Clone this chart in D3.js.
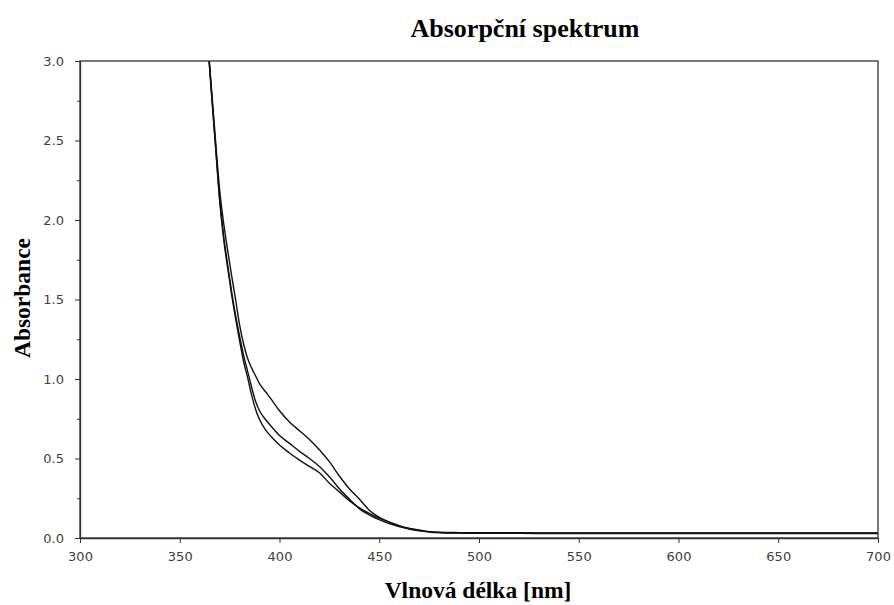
<!DOCTYPE html>
<html><head><meta charset="utf-8">
<script src="https://cdn.jsdelivr.net/npm/d3@7"></script>
<style>body{margin:0;background:#fff}</style>
</head><body>
<svg id="c" width="894" height="605"></svg>
<script>
const xTicks = [300,350,400,450,500,550,600,650,700];
const yTicks = [0.0,0.5,1.0,1.5,2.0,2.5,3.0];
const yMinor = [0.25,0.75,1.25,1.75,2.25,2.75];
const wl = [362,364,366,368,370,372,374,376,378,380,382,384,386,388,390,393,396,400,405,410,415,420,425,430,435,440,445,450,455,460,465,470,475,480,490,500,520,540,560,580,600,620,640,660,680,700];
const seriesLow = [3.45,3.12,2.78,2.45,2.12,1.88,1.70,1.53,1.38,1.24,1.11,1.01,0.90,0.81,0.745,0.68,0.635,0.585,0.535,0.49,0.45,0.41,0.345,0.29,0.235,0.19,0.155,0.125,0.10,0.077,0.06,0.048,0.04,0.035,0.031,0.029,0.029,0.028,0.028,0.028,0.028,0.028,0.028,0.028,0.028,0.028];
const seriesMid = [3.45,3.12,2.79,2.46,2.14,1.90,1.72,1.55,1.40,1.27,1.15,1.05,0.95,0.86,0.80,0.745,0.70,0.645,0.595,0.545,0.50,0.45,0.385,0.31,0.245,0.185,0.145,0.115,0.09,0.072,0.056,0.045,0.038,0.034,0.032,0.031,0.031,0.030,0.030,0.030,0.030,0.030,0.030,0.030,0.030,0.030];
const seriesHigh = [3.46,3.14,2.81,2.49,2.19,1.98,1.81,1.65,1.50,1.34,1.22,1.13,1.07,1.02,0.97,0.92,0.87,0.80,0.73,0.675,0.62,0.555,0.48,0.39,0.31,0.245,0.175,0.13,0.10,0.075,0.06,0.05,0.04,0.036,0.034,0.033,0.033,0.032,0.032,0.032,0.032,0.032,0.032,0.032,0.032,0.032];

const svg = d3.select("#c");
const L = 80, R = 878, T = 61, B = 538;
const x = d3.scaleLinear().domain([300,700]).range([L,R]);
const y = d3.scaleLinear().domain([0,3]).range([B,T]);

svg.append("defs").append("clipPath").attr("id","clip")
  .append("rect").attr("x",L).attr("y",T).attr("width",R-L).attr("height",B-T);

const line = d3.line().x((d,i)=>x(wl[i])).y(d=>y(d)).curve(d3.curveMonotoneX);
const g = svg.append("g").attr("clip-path","url(#clip)");
[seriesLow, seriesMid, seriesHigh].forEach(s=>{
  g.append("path").attr("d", line(s)).attr("fill","none").attr("stroke","#111").attr("stroke-width",1.4);
});

// frame
svg.append("rect").attr("x",L).attr("y",T).attr("width",R-L).attr("height",B-T)
  .attr("fill","none").attr("stroke","#333").attr("stroke-width",1.3);

svg.append("g").attr("transform",`translate(0,${B})`)
  .call(d3.axisBottom(x).tickValues(xTicks).tickSize(5).tickSizeOuter(0).tickPadding(9).tickFormat(d3.format("d")));
svg.append("g").attr("transform",`translate(${L},0)`)
  .call(d3.axisLeft(y).tickValues(yTicks).tickSize(5).tickSizeOuter(0).tickPadding(11).tickFormat(d3.format(".1f")));
svg.append("g").attr("transform",`translate(${L},0)`)
  .call(d3.axisLeft(y).tickValues(yMinor).tickSize(3).tickFormat(""))
  .select(".domain").remove();
svg.selectAll(".tick line").attr("stroke","#333");
svg.selectAll(".domain").attr("stroke","#333").attr("stroke-width",1.3);
svg.selectAll(".tick text").attr("font-family","'DejaVu Sans', sans-serif").attr("font-size",13).attr("fill","#404040");

svg.append("text").attr("x",525).attr("y",37).attr("text-anchor","middle")
  .attr("font-family","'Liberation Serif', serif").attr("font-weight","bold").attr("font-size",26)
  .text("Absorpční spektrum");
svg.append("text").attr("x",478).attr("y",598).attr("text-anchor","middle")
  .attr("font-family","'Liberation Serif', serif").attr("font-weight","bold").attr("font-size",23.5)
  .text("Vlnová délka [nm]");
svg.append("text").attr("transform","translate(30,298) rotate(-90)").attr("text-anchor","middle")
  .attr("font-family","'Liberation Serif', serif").attr("font-weight","bold").attr("font-size",23.5)
  .text("Absorbance");
</script>
</body></html>
